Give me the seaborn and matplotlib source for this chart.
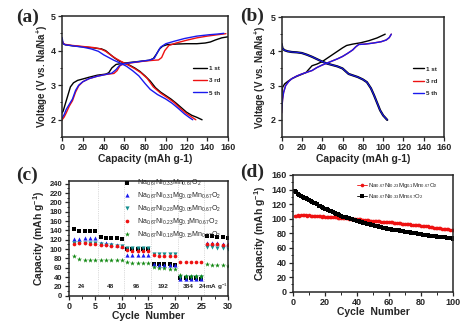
import numpy as np
import pandas as pd
import matplotlib
matplotlib.use("Agg")
import matplotlib.pyplot as plt
import seaborn as sns

# ---------------- Data ----------------
# Panel (a): charge/discharge curves (capacity mAh/g, voltage V)
a1_ch_cap = [0, 1, 2, 4, 6, 8, 11, 15, 20, 26, 34, 42, 45, 48, 52, 58, 66, 75, 84, 88, 91, 94, 97, 101, 110, 120, 130, 138, 143, 148, 154, 160]
a1_ch_v = [2.2, 2.25, 2.35, 2.55, 2.75, 2.95, 3.07, 3.14, 3.18, 3.23, 3.29, 3.32, 3.36, 3.5, 3.6, 3.63, 3.66, 3.69, 3.72, 3.77, 3.9, 4.05, 4.13, 4.17, 4.19, 4.2, 4.2, 4.22, 4.25, 4.31, 4.37, 4.4]
a1_dis_cap = [0, 1, 3, 10, 20, 30, 38, 42, 46, 50, 55, 60, 65, 70, 75, 80, 85, 90, 95, 100, 105, 110, 115, 120, 125, 130, 135]
a1_dis_v = [4.3, 4.2, 4.17, 4.14, 4.11, 4.08, 4.05, 4.0, 3.9, 3.8, 3.7, 3.64, 3.58, 3.5, 3.4, 3.27, 3.12, 2.93, 2.8, 2.7, 2.6, 2.48, 2.35, 2.22, 2.13, 2.07, 2.0]
a3_ch_cap = [0, 2, 4, 7, 10, 13, 16, 20, 26, 34, 42, 50, 53, 56, 60, 70, 80, 88, 93, 96, 99, 103, 110, 120, 130, 140, 150, 158]
a3_ch_v = [2.0, 2.08, 2.2, 2.4, 2.55, 2.8, 2.98, 3.1, 3.19, 3.26, 3.31, 3.34, 3.42, 3.57, 3.62, 3.66, 3.7, 3.72, 3.73, 3.8, 4.0, 4.15, 4.22, 4.3, 4.37, 4.42, 4.46, 4.49]
a3_dis_cap = [0, 1, 3, 10, 20, 30, 37, 42, 47, 52, 58, 64, 70, 76, 82, 88, 95, 102, 108, 114, 120, 125, 129]
a3_dis_v = [4.3, 4.21, 4.18, 4.15, 4.12, 4.09, 4.05, 3.98, 3.87, 3.77, 3.67, 3.58, 3.48, 3.36, 3.2, 2.95, 2.77, 2.63, 2.5, 2.33, 2.18, 2.08, 2.0]
a5_ch_cap = [0, 2, 4, 7, 10, 13, 16, 20, 26, 34, 42, 48, 52, 55, 58, 66, 76, 85, 89, 92, 95, 100, 108, 118, 130, 142, 150, 156]
a5_ch_v = [2.05, 2.15, 2.3, 2.45, 2.6, 2.85, 3.0, 3.1, 3.19, 3.26, 3.31, 3.35, 3.45, 3.56, 3.61, 3.65, 3.69, 3.73, 3.78, 3.95, 4.1, 4.2, 4.27, 4.35, 4.42, 4.46, 4.48, 4.5]
a5_dis_cap = [0, 1, 3, 10, 20, 28, 35, 40, 45, 50, 56, 62, 68, 74, 80, 85, 92, 100, 106, 112, 118, 123, 126]
a5_dis_v = [4.38, 4.2, 4.17, 4.14, 4.1, 4.05, 3.98, 3.88, 3.8, 3.72, 3.64, 3.55, 3.42, 3.27, 3.05, 2.88, 2.73, 2.6, 2.48, 2.33, 2.17, 2.06, 2.0]

# Panel (b)
b1_ch_cap = [0, 0.5, 1, 3, 6, 10, 15, 20, 24, 27, 30, 35, 40, 45, 50, 55, 60, 64, 70, 78, 86, 94, 102]
b1_ch_v = [2.6, 2.85, 2.95, 3.05, 3.12, 3.2, 3.27, 3.33, 3.38, 3.48, 3.58, 3.63, 3.7, 3.8, 3.9, 4.0, 4.1, 4.17, 4.21, 4.25, 4.31, 4.39, 4.5]
b5_ch_cap = [0, 0.5, 1, 2, 4, 7, 10, 15, 20, 25, 30, 35, 40, 45, 50, 55, 60, 65, 70, 73, 76, 82, 90, 98, 103, 106, 108]
b5_ch_v = [2.2, 2.4, 2.6, 2.8, 3.0, 3.12, 3.2, 3.28, 3.34, 3.39, 3.44, 3.53, 3.6, 3.66, 3.72, 3.78, 3.85, 3.94, 4.04, 4.13, 4.2, 4.21, 4.24, 4.28, 4.33, 4.4, 4.5]
b_dis_cap = [0, 1, 3, 6, 10, 15, 20, 25, 30, 35, 40, 45, 50, 55, 60, 63, 66, 70, 75, 80, 84, 88, 91, 94, 97, 100, 104]
b_dis_v = [4.22, 4.08, 4.03, 4.0, 3.98, 3.97, 3.95, 3.9, 3.84, 3.77, 3.7, 3.64, 3.6, 3.56, 3.5, 3.42, 3.34, 3.3, 3.25, 3.18, 3.1, 2.92, 2.72, 2.5, 2.28, 2.13, 2.0]

# Panel (c): rate capability
c_cycles = list(range(1, 31))
c_x0 = [142, 139, 139, 138, 138, 126, 124, 124, 123, 121, 101, 101, 100, 100, 100, 68, 67, 67, 67, 66, 37, 37, 37, 37, 36, 128, 127, 126, 125, 123]
c_x2 = [122, 122, 123, 123, 123, 114, 112, 110, 108, 106, 88, 88, 88, 88, 87, 67, 66, 66, 66, 66, 36, 36, 36, 36, 35, 113, 113, 112, 111, 110]
c_x5 = [113, 113, 113, 112, 112, 110, 109, 108, 107, 106, 103, 103, 103, 103, 103, 90, 90, 90, 90, 90, 40, 40, 40, 40, 40, 105, 104, 103, 102, 100]
c_x10 = [111, 112, 112, 111, 110, 109, 108, 107, 106, 105, 97, 96, 96, 96, 95, 87, 86, 86, 86, 86, 73, 73, 73, 73, 73, 110, 110, 110, 109, 108]
c_x15 = [85, 79, 77, 76, 76, 77, 77, 76, 76, 76, 72, 71, 70, 70, 69, 61, 60, 59, 58, 57, 44, 43, 43, 42, 42, 67, 66, 65, 65, 63]
c_labels = [r"Na$_{0.67}$Ni$_{0.33}$Mn$_{0.67}$O$_2$",
            r"Na$_{0.67}$Ni$_{0.31}$Mg$_{0.02}$Mn$_{0.67}$O$_2$",
            r"Na$_{0.67}$Ni$_{0.28}$Mg$_{0.05}$Mn$_{0.67}$O$_2$",
            r"Na$_{0.67}$Ni$_{0.23}$Mg$_{0.1}$Mn$_{0.67}$O$_2$",
            r"Na$_{0.67}$Ni$_{0.18}$Mg$_{0.15}$Mn$_{0.67}$O$_2$"]
rate_labels = ["24", "48", "96", "192", "384", r"24mA g$^{-1}$"]
rate_pos = [2.3, 7.9, 12.7, 17.8, 22.6, 27.2]

# Panel (d): cycling
d_cycles = list(range(1, 101))
d_mg = [104, 104, 104.5, 104, 105, 104.5, 105.5, 104.5, 104, 104.5,
        104, 104, 104, 103.5, 104, 103.5, 103.5, 103, 103.5, 103,
        103, 102.5, 103, 102.5, 102, 102, 102, 101.5, 101.5, 101,
        101, 101, 100.5, 100.5, 100, 100, 100, 99.5, 99.5, 99.5,
        99, 99, 98.5, 98.5, 98.5, 98, 98, 97.5, 97.5, 97,
        97, 97, 96.5, 96.5, 96, 96, 96, 95.5, 95.5, 95,
        95, 95, 94.5, 94.5, 94, 94, 94, 93.5, 93.5, 93,
        93, 92.5, 92.5, 92, 92, 91.5, 91.5, 91, 91, 90.5,
        90, 90, 89.5, 89.5, 89, 89, 88.5, 88, 88, 87.5,
        87, 87, 86.5, 86.5, 86, 86, 85.5, 85, 85, 84.5]
d_ni = [138, 136, 134, 132, 131, 130, 129, 128, 127, 126,
        125, 123, 122, 121, 120, 118, 117, 116, 115, 114,
        113, 112, 111, 110, 109, 108, 107, 106, 105, 104,
        103, 102.5, 102, 101, 100.5, 100, 99, 98.5, 98, 97,
        96.5, 96, 95, 94.5, 94, 93, 93, 92.5, 92, 91,
        90.5, 90, 89.5, 89, 88.5, 88, 87.5, 87, 86.5, 86,
        85.5, 85, 85, 84.5, 84, 84, 83.5, 83, 83, 82.5,
        82, 82, 81.5, 81, 80.5, 80, 80, 79.5, 79, 78.5,
        78, 78, 77.5, 77.5, 77, 77, 76.5, 76, 76, 75.5,
        75.5, 75, 75, 74.5, 74.5, 74, 73.5, 73.5, 73, 72.5]
d_labels = [r"Na$_{0.67}$Ni$_{0.23}$Mg$_{0.1}$Mn$_{0.67}$O$_2$",
            r"Na$_{0.67}$Ni$_{0.33}$Mn$_{0.67}$O$_2$"]

# ---------------- Style ----------------
sns.set_style("ticks")
plt.rcParams["font.family"] = ["Liberation Sans", "DejaVu Sans"]
plt.rcParams["mathtext.fontset"] = "custom"
plt.rcParams["mathtext.rm"] = "Liberation Sans"
plt.rcParams["mathtext.it"] = "Liberation Sans:italic"
plt.rcParams["mathtext.bf"] = "Liberation Sans:bold"
plt.rcParams["xtick.direction"] = "out"
plt.rcParams["ytick.direction"] = "out"

fig = plt.figure(figsize=(4.74, 3.21), dpi=100)
fig.patch.set_facecolor("white")

ax_a = fig.add_axes([0.131, 0.573, 0.350, 0.377])
ax_b = fig.add_axes([0.594, 0.573, 0.343, 0.374])
ax_c = fig.add_axes([0.145, 0.079, 0.336, 0.357])
ax_d = fig.add_axes([0.618, 0.091, 0.338, 0.364])

TICK_FS = 6.5
LABEL_FS = 7


def style_axes(ax):
    for s in ax.spines.values():
        s.set_linewidth(1.1)
        s.set_visible(True)
    ax.tick_params(which="major", length=3, width=0.9, labelsize=TICK_FS, pad=1.5)
    ax.tick_params(which="minor", length=1.8, width=0.7)
    for lab in ax.get_xticklabels() + ax.get_yticklabels():
        lab.set_fontweight("bold")


def curve(ax, cap, v, color, label=None, lw=1.0):
    df = pd.DataFrame({"cap": cap, "v": v})
    sns.lineplot(data=df, x="cap", y="v", ax=ax, color=color, sort=False,
                 estimator=None, lw=lw, label=label, legend=False)


# ---- Panel (a)
curve(ax_a, a1_ch_cap, a1_ch_v, "black", "1 st")
curve(ax_a, a1_dis_cap, a1_dis_v, "black")
curve(ax_a, a3_ch_cap, a3_ch_v, "#ee1111", "3 rd")
curve(ax_a, a3_dis_cap, a3_dis_v, "#ee1111")
curve(ax_a, a5_ch_cap, a5_ch_v, "#1a1aee", "5 th")
curve(ax_a, a5_dis_cap, a5_dis_v, "#1a1aee")

# ---- Panel (b)
curve(ax_b, b1_ch_cap, b1_ch_v, "black", "1 st")
curve(ax_b, b_dis_cap, b_dis_v, "black", lw=1.6)
curve(ax_b, b5_ch_cap, b5_ch_v, "#ee1111", "3 rd")
curve(ax_b, b5_ch_cap, b5_ch_v, "#1a1aee", "5 th")
curve(ax_b, b_dis_cap, b_dis_v, "#1a1aee", lw=0.8)

for ax, ylx, legx, hl in [(ax_a, -0.075, 0.79, 2.2), (ax_b, -0.084, 0.81, 1.8)]:
    ax.set_xlim(0, 160)
    ax.set_ylim(1.5, 5)
    ax.set_xticks(range(0, 161, 20))
    ax.set_yticks([2, 3, 4, 5])
    ax.yaxis.set_minor_locator(matplotlib.ticker.MultipleLocator(0.5))
    ax.set_xlabel("Capacity (mAh g-1)", fontsize=LABEL_FS + 0.5, fontweight="bold", labelpad=1)
    ax.set_ylabel(r"Voltage (V vs. Na/Na$^{\mathbf{+}}$)", fontsize=LABEL_FS, fontweight="bold")
    ax.yaxis.set_label_coords(ylx, 0.5)
    style_axes(ax)
    leg = ax.legend(loc="upper left", bbox_to_anchor=(legx, 0.59),
                    frameon=False, fontsize=4.5, handlelength=hl, handletextpad=0.3,
                    labelspacing=1.1, borderaxespad=0, borderpad=0)
    for t in leg.get_texts():
        t.set_fontweight("bold")

fig.text(0.033, 0.945, "(a)", fontsize=14, fontweight="bold", family="Liberation Serif", va="center")
fig.text(0.506, 0.950, "(b)", fontsize=14, fontweight="bold", family="Liberation Serif", va="center")
fig.text(0.033, 0.455, "(c)", fontsize=14, fontweight="bold", family="Liberation Serif", va="center")
fig.text(0.506, 0.462, "(d)", fontsize=14, fontweight="bold", family="Liberation Serif", va="center")

# ---- Panel (c)
c_series = [c_x0, c_x2, c_x5, c_x10, c_x15]
c_colors = ["black", "#1a1aee", "#148f8f", "#ee1111", "#118811"]
c_markers = ["s", "^", "v", "o", "*"]
c_sizes = [7, 9, 9, 7, 14]
for vals, col, mk, sz, lab in zip(c_series, c_colors, c_markers, c_sizes, c_labels):
    df = pd.DataFrame({"cycle": c_cycles, "cap": vals})
    sns.scatterplot(data=df, x="cycle", y="cap", ax=ax_c, color=col, marker=mk,
                    s=sz, linewidth=0, label=lab, legend=False)
for xv in [5.5, 10.5, 15.5, 20.5, 25.5]:
    ax_c.axvline(xv, color="#bbbbbb", lw=0.5, ls=":", zorder=0)
for lab, xp in zip(rate_labels, rate_pos):
    ax_c.text(xp, 19.5, lab, fontsize=4.6, fontweight="bold", ha="center", va="center")
ax_c.set_xlim(0, 30)
ax_c.set_ylim(0, 246)
ax_c.set_xticks(range(0, 31, 5))
ax_c.set_yticks(range(0, 241, 20))
ax_c.yaxis.set_minor_locator(matplotlib.ticker.MultipleLocator(10))
ax_c.xaxis.set_minor_locator(matplotlib.ticker.MultipleLocator(2.5))
ax_c.set_xlabel("Cycle  Number", fontsize=7.5, fontweight="bold", labelpad=0)
ax_c.set_ylabel(r"Capacity (mAh g$^{\mathbf{-1}}$)", fontsize=LABEL_FS + 0.5, fontweight="bold")
ax_c.yaxis.set_label_coords(-0.136, 0.5)
style_axes(ax_c)
ax_c.tick_params(axis="y", labelsize=5.5)
legc = ax_c.legend(loc="upper left", bbox_to_anchor=(0.32, 1.03), frameon=False,
                   fontsize=5.0, handletextpad=0.5, labelspacing=0.3,
                   borderaxespad=0, borderpad=0, markerscale=1.0)

# ---- Panel (d)
df_mg = pd.DataFrame({"cycle": d_cycles, "cap": d_mg})
df_ni = pd.DataFrame({"cycle": d_cycles, "cap": d_ni})
sns.lineplot(data=df_mg, x="cycle", y="cap", ax=ax_d, color="#ee1111", marker="o",
             markersize=2.6, markeredgewidth=0, lw=0.6, label=d_labels[0], legend=False)
sns.lineplot(data=df_ni, x="cycle", y="cap", ax=ax_d, color="black", marker="s",
             markersize=2.4, markeredgewidth=0, lw=0.6, label=d_labels[1], legend=False)
ax_d.set_xlim(0, 100)
ax_d.set_ylim(0, 160)
ax_d.set_xticks(range(0, 101, 20))
ax_d.set_yticks(range(0, 161, 20))
ax_d.yaxis.set_minor_locator(matplotlib.ticker.MultipleLocator(10))
ax_d.xaxis.set_minor_locator(matplotlib.ticker.MultipleLocator(10))
ax_d.set_xlabel("Cycle  Number", fontsize=7.5, fontweight="bold", labelpad=0)
ax_d.set_ylabel(r"Capacity (mAh g$^{\mathbf{-1}}$)", fontsize=LABEL_FS + 0.5, fontweight="bold")
ax_d.yaxis.set_label_coords(-0.156, 0.5)
style_axes(ax_d)
legd = ax_d.legend(loc="upper left", bbox_to_anchor=(0.40, 0.95), frameon=False,
                   fontsize=4.3, handlelength=1.6, handletextpad=0.3,
                   labelspacing=0.35, borderaxespad=0, borderpad=0)

fig.savefig("out.png", dpi=100, facecolor="white")
